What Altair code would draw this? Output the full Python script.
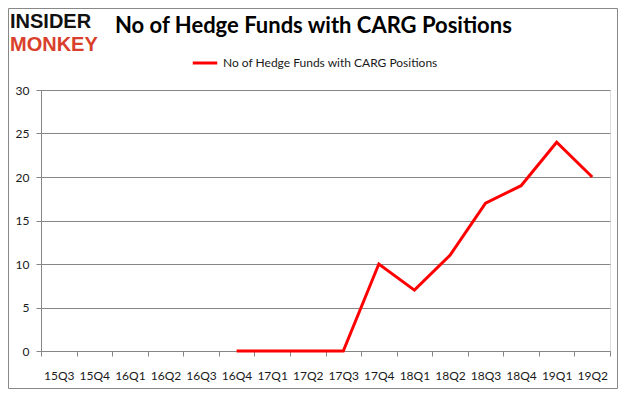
import altair as alt
import pandas as pd

quarters = ["15Q3", "15Q4", "16Q1", "16Q2", "16Q3", "16Q4", "17Q1", "17Q2",
            "17Q3", "17Q4", "18Q1", "18Q2", "18Q3", "18Q4", "19Q1", "19Q2"]
values = [None, None, None, None, None, 0, 0, 0, 0, 10, 7, 11, 17, 19, 24, 20]
series_name = "No of Hedge Funds with CARG Positions"
title_text = "No of Hedge Funds with CARG Positions"
y_ticks = [0, 5, 10, 15, 20, 25, 30]

df = pd.DataFrame({"quarter": quarters, "value": values, "series": series_name})
line_df = df.dropna()

W, H = 569, 261
PAD = {"left": 33, "top": 82, "right": 8, "bottom": 38}

x_enc = alt.X(
    "quarter:O",
    sort=quarters,
    scale=alt.Scale(type="band", domain=quarters, paddingInner=0, paddingOuter=0),
    bandPosition=0.5,
    axis=alt.Axis(
        title=None, tickBand="extent", grid=False, domainColor="#868686",
        tickColor="#868686", tickSize=5, labelPadding=14, labelAngle=0,
        labelFont="Lato", labelFontSize=12, labelColor="#1a1a1a",
    ),
)
y_enc = alt.Y(
    "value:Q",
    scale=alt.Scale(domain=[0, 30], nice=False),
    axis=alt.Axis(
        title=None, values=y_ticks, grid=True, gridColor="#868686",
        domainColor="#868686", tickColor="#868686", tickSize=5, labelPadding=7,
        labelFont="Lato", labelFontSize=12, labelColor="#1a1a1a",
    ),
)

line = alt.Chart(line_df).mark_line(strokeWidth=3).encode(
    x=x_enc,
    y=y_enc,
    color=alt.Color(
        "series:N",
        scale=alt.Scale(range=["#ff0000"]),
        legend=alt.Legend(
            title=None, orient="none", legendX=150, legendY=-41,
            symbolType="stroke", symbolStrokeWidth=3, symbolSize=600,
            labelFont="Lato", labelFontSize=12, labelColor="#1a1a1a",
            labelLimit=0,
        ),
    ),
)

title = alt.Chart(pd.DataFrame({"t": [title_text]})).mark_text(
    font="Lato", fontSize=22, fontWeight="bold", align="left",
    baseline="alphabetic", color="#000000",
).encode(text="t:N", x=alt.value(74), y=alt.value(-57))

logo1 = alt.Chart(pd.DataFrame({"t": ["INSIDER"]})).mark_text(
    font="Liberation Sans", fontSize=20, fontWeight="bold", align="left",
    baseline="alphabetic", color="#111111",
).encode(text="t:N", x=alt.value(-31), y=alt.value(-62))

logo2 = alt.Chart(pd.DataFrame({"t": ["MONKEY"]})).mark_text(
    font="Liberation Sans", fontSize=20, fontWeight="bold", align="left",
    baseline="alphabetic", color="#d9402b",
).encode(text="t:N", x=alt.value(-31), y=alt.value(-39))

border = alt.Chart(pd.DataFrame({"a": [0]})).mark_rect(
    fill=None, stroke="#888888", strokeWidth=1
).encode(
    x=alt.value(-32.5), x2=alt.value(W + 7.5),
    y=alt.value(-81.5), y2=alt.value(H + 37.5),
)

chart = alt.layer(border, line, title, logo1, logo2).properties(
    width=W, height=H, padding=PAD,
    autosize=alt.AutoSizeParams(type="none"),
).configure_view(stroke=None).configure(background="white")

chart.save("out.html", embed_options={"renderer": "svg", "actions": False})
